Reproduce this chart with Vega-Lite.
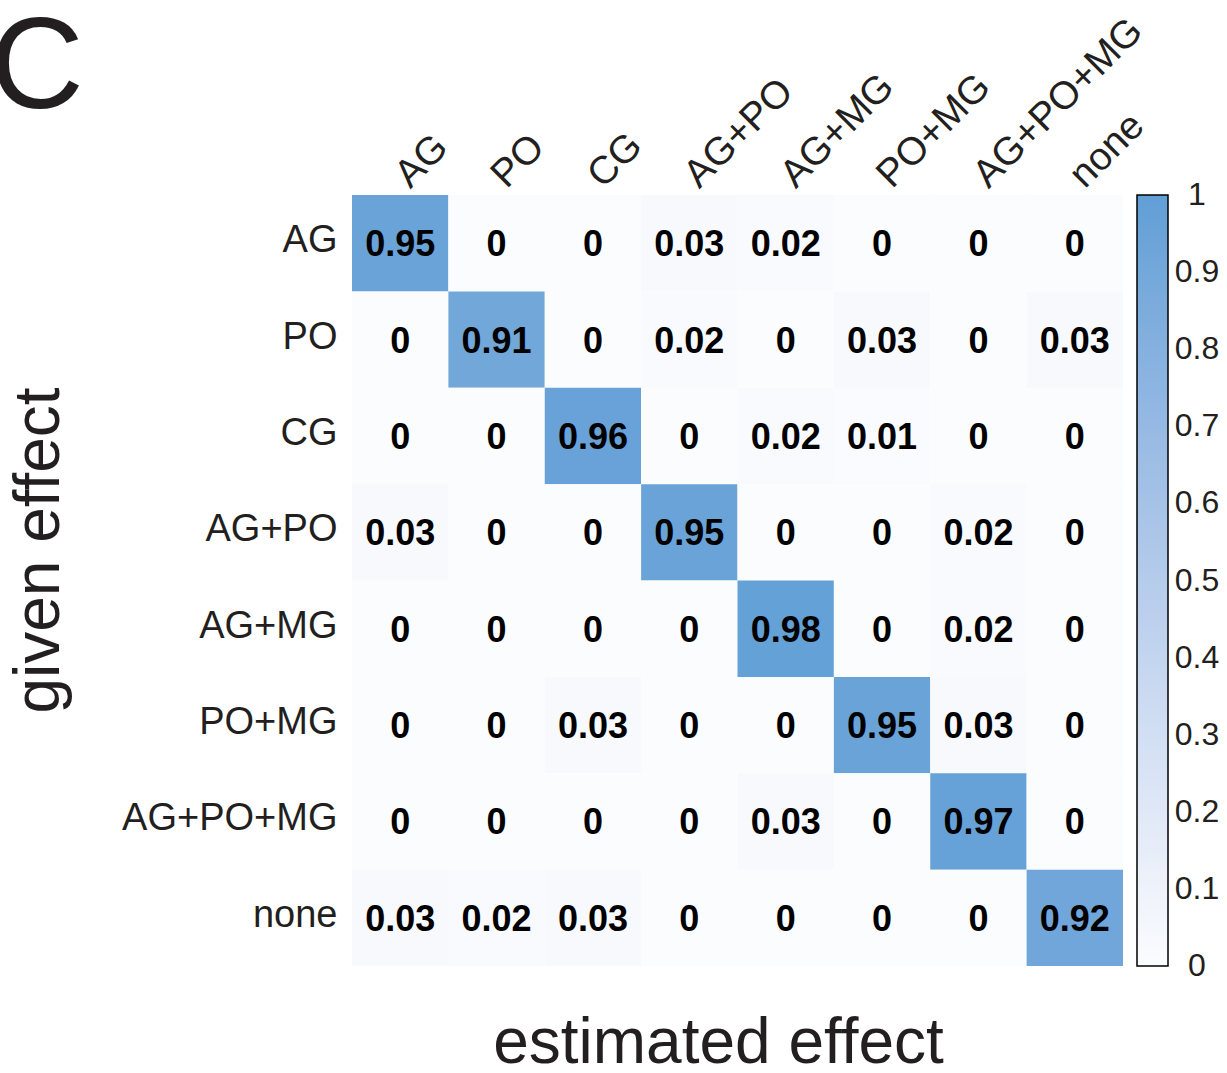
{
  "$schema": "https://vega.github.io/schema/vega-lite/v6.json",
  "width": 771,
  "height": 771,
  "autosize": {"type": "none"},
  "padding": {"left": 352, "top": 195, "right": 104, "bottom": 107},
  "background": "white",
  "config": {
    "view": {"stroke": null},
    "font": "Liberation Sans",
    "axis": {"domain": false, "ticks": false, "grid": false, "labelColor": "#231f20", "titleColor": "#231f20", "titleFontWeight": "normal", "labelFont": "Liberation Sans", "titleFont": "Liberation Sans", "labelLimit": 0}
  },
  "title": {"text": "C", "anchor": "start", "frame": "group", "orient": "top", "fontSize": 130, "fontWeight": "normal", "color": "#231f20", "font": "Liberation Sans", "dx": -362, "dy": 128},
  "data": {
    "values": [
      {"given": "AG", "est": "AG", "v": 0.95}, {"given": "AG", "est": "PO", "v": 0}, {"given": "AG", "est": "CG", "v": 0}, {"given": "AG", "est": "AG+PO", "v": 0.03}, {"given": "AG", "est": "AG+MG", "v": 0.02}, {"given": "AG", "est": "PO+MG", "v": 0}, {"given": "AG", "est": "AG+PO+MG", "v": 0}, {"given": "AG", "est": "none", "v": 0},
      {"given": "PO", "est": "AG", "v": 0}, {"given": "PO", "est": "PO", "v": 0.91}, {"given": "PO", "est": "CG", "v": 0}, {"given": "PO", "est": "AG+PO", "v": 0.02}, {"given": "PO", "est": "AG+MG", "v": 0}, {"given": "PO", "est": "PO+MG", "v": 0.03}, {"given": "PO", "est": "AG+PO+MG", "v": 0}, {"given": "PO", "est": "none", "v": 0.03},
      {"given": "CG", "est": "AG", "v": 0}, {"given": "CG", "est": "PO", "v": 0}, {"given": "CG", "est": "CG", "v": 0.96}, {"given": "CG", "est": "AG+PO", "v": 0}, {"given": "CG", "est": "AG+MG", "v": 0.02}, {"given": "CG", "est": "PO+MG", "v": 0.01}, {"given": "CG", "est": "AG+PO+MG", "v": 0}, {"given": "CG", "est": "none", "v": 0},
      {"given": "AG+PO", "est": "AG", "v": 0.03}, {"given": "AG+PO", "est": "PO", "v": 0}, {"given": "AG+PO", "est": "CG", "v": 0}, {"given": "AG+PO", "est": "AG+PO", "v": 0.95}, {"given": "AG+PO", "est": "AG+MG", "v": 0}, {"given": "AG+PO", "est": "PO+MG", "v": 0}, {"given": "AG+PO", "est": "AG+PO+MG", "v": 0.02}, {"given": "AG+PO", "est": "none", "v": 0},
      {"given": "AG+MG", "est": "AG", "v": 0}, {"given": "AG+MG", "est": "PO", "v": 0}, {"given": "AG+MG", "est": "CG", "v": 0}, {"given": "AG+MG", "est": "AG+PO", "v": 0}, {"given": "AG+MG", "est": "AG+MG", "v": 0.98}, {"given": "AG+MG", "est": "PO+MG", "v": 0}, {"given": "AG+MG", "est": "AG+PO+MG", "v": 0.02}, {"given": "AG+MG", "est": "none", "v": 0},
      {"given": "PO+MG", "est": "AG", "v": 0}, {"given": "PO+MG", "est": "PO", "v": 0}, {"given": "PO+MG", "est": "CG", "v": 0.03}, {"given": "PO+MG", "est": "AG+PO", "v": 0}, {"given": "PO+MG", "est": "AG+MG", "v": 0}, {"given": "PO+MG", "est": "PO+MG", "v": 0.95}, {"given": "PO+MG", "est": "AG+PO+MG", "v": 0.03}, {"given": "PO+MG", "est": "none", "v": 0},
      {"given": "AG+PO+MG", "est": "AG", "v": 0}, {"given": "AG+PO+MG", "est": "PO", "v": 0}, {"given": "AG+PO+MG", "est": "CG", "v": 0}, {"given": "AG+PO+MG", "est": "AG+PO", "v": 0}, {"given": "AG+PO+MG", "est": "AG+MG", "v": 0.03}, {"given": "AG+PO+MG", "est": "PO+MG", "v": 0}, {"given": "AG+PO+MG", "est": "AG+PO+MG", "v": 0.97}, {"given": "AG+PO+MG", "est": "none", "v": 0},
      {"given": "none", "est": "AG", "v": 0.03}, {"given": "none", "est": "PO", "v": 0.02}, {"given": "none", "est": "CG", "v": 0.03}, {"given": "none", "est": "AG+PO", "v": 0}, {"given": "none", "est": "AG+MG", "v": 0}, {"given": "none", "est": "PO+MG", "v": 0}, {"given": "none", "est": "AG+PO+MG", "v": 0}, {"given": "none", "est": "none", "v": 0.92}
    ]
  },
  "encoding": {
    "x": {
      "field": "est", "type": "nominal",
      "sort": ["AG", "PO", "CG", "AG+PO", "AG+MG", "PO+MG", "AG+PO+MG", "none"],
      "scale": {"paddingInner": 0, "paddingOuter": 0},
      "axis": {"orient": "top", "labelAngle": -45, "labelAlign": "left", "labelBaseline": "alphabetic", "labelFontSize": 39, "labelPadding": 6, "labelOffset": 10, "title": "estimated effect", "titleFontSize": 64, "titleX": 366, "titleY": 848, "titleBaseline": "middle", "titleAlign": "center", "titleAngle": 0}
    },
    "y": {
      "field": "given", "type": "nominal",
      "sort": ["AG", "PO", "CG", "AG+PO", "AG+MG", "PO+MG", "AG+PO+MG", "none"],
      "scale": {"paddingInner": 0, "paddingOuter": 0},
      "axis": {"labelFontSize": 38, "labelPadding": 15, "labelBaseline": "middle", "labelOffset": -2, "title": "given effect", "titleFontSize": 64, "titleAngle": -90, "titleX": -313, "titleY": 355, "titleAlign": "center", "titleBaseline": "middle"}
    }
  },
  "layer": [
    {
      "mark": {"type": "rect"},
      "encoding": {
        "color": {
          "field": "v", "type": "quantitative",
          "scale": {"domain": [0, 1], "range": ["#fbfcfe", "#609fd6"]},
          "legend": {"title": null, "orient": "right", "offset": 14, "padding": 0, "gradientLength": 771, "gradientThickness": 31, "gradientStrokeColor": "#000000", "gradientStrokeWidth": 1.5, "labelFontSize": 32, "labelFont": "Liberation Sans", "labelColor": "#231f20", "labelOffset": 29, "labelAlign": "center", "labelBaseline": "middle", "format": "~g", "values": [0, 0.1, 0.2, 0.3, 0.4, 0.5, 0.6, 0.7, 0.8, 0.9, 1], "labelOverlap": false,
            "encode": {"labels": {"update": {"baseline": {"value": "middle"}, "align": {"value": "center"}}}}}
        }
      }
    },
    {
      "mark": {"type": "text", "fontSize": 36, "fontWeight": "bold", "color": "#000000", "font": "Liberation Sans", "dy": 2},
      "encoding": {"text": {"field": "v", "type": "quantitative"}}
    }
  ]
}
